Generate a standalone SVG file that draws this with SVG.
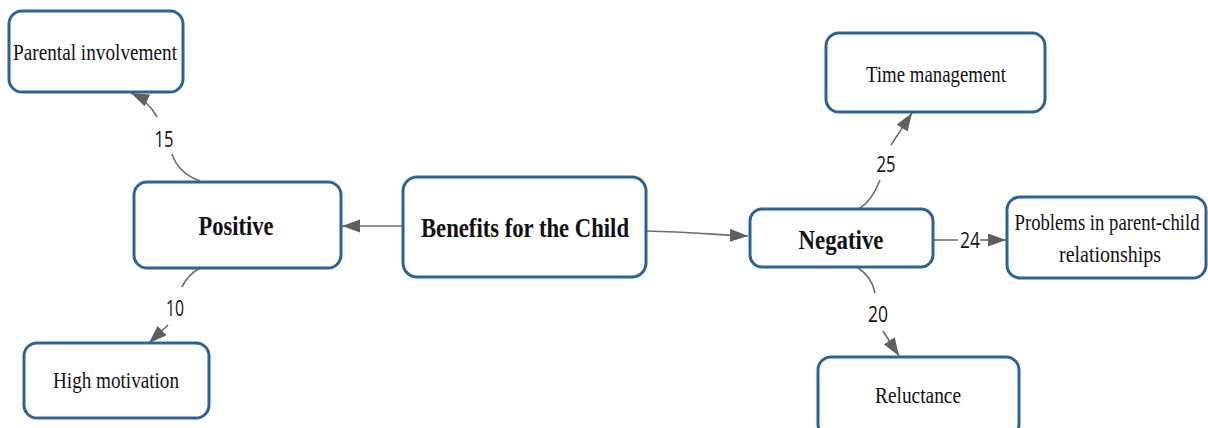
<svg xmlns="http://www.w3.org/2000/svg" width="1208" height="428" viewBox="0 0 1208 428">
<defs>
<style>
.box{fill:#fff;stroke:#2F6394;stroke-width:3}
.t{font-family:"Liberation Serif","Times New Roman",serif;font-size:24px;fill:#111;text-anchor:middle}
.b{font-family:"Liberation Serif","Times New Roman",serif;font-size:27px;font-weight:bold;fill:#111;text-anchor:middle}
.n{font-family:"Open Sans","Noto Sans",sans-serif;font-size:21px;fill:#111;text-anchor:middle}
.c{fill:none;stroke:#6e6e6e;stroke-width:1.6}
</style>
<marker id="ah" markerUnits="userSpaceOnUse" markerWidth="20" markerHeight="14" refX="18" refY="6.5" orient="auto">
<path d="M0,0 L18,6.5 L0,13 z" fill="#5f5f5f"/>
</marker>
</defs>
<rect width="1208" height="428" fill="#fff"/>
<g id="connectors">
<path class="c" d="M403,226 L342,226" marker-end="url(#ah)"/>
<path class="c" d="M646,231 C690,232 720,235 748,236" marker-end="url(#ah)"/>
<path class="c" d="M200,181 C186,176 176,166 172,154"/>
<path class="c" d="M157,117 C151,106 142,98 131,93" marker-end="url(#ah)"/>
<path class="c" d="M200,268 C192,272 185,280 182,287"/>
<path class="c" d="M168,325 L149,343" marker-end="url(#ah)"/>
<path class="c" d="M860,208 C868,203 875,193 880,180"/>
<path class="c" d="M891,145 L912,113" marker-end="url(#ah)"/>
<path class="c" d="M857,267 C866,273 873,282 875,293"/>
<path class="c" d="M883,331 L899,356" marker-end="url(#ah)"/>
<path class="c" d="M933,240 L958,240"/>
<path class="c" d="M980,240 L1006,240" marker-end="url(#ah)"/>
<text class="n" x="164" y="147" textLength="19" lengthAdjust="spacingAndGlyphs">15</text>
<text class="n" x="175" y="316" textLength="18" lengthAdjust="spacingAndGlyphs">10</text>
<text class="n" x="886" y="172" textLength="19" lengthAdjust="spacingAndGlyphs">25</text>
<text class="n" x="878" y="322" textLength="20" lengthAdjust="spacingAndGlyphs">20</text>
<text class="n" x="970" y="248" textLength="20" lengthAdjust="spacingAndGlyphs">24</text>
</g>
<g id="parental">
<rect class="box" x="9" y="11" width="174" height="81" rx="13"/>
<text class="t" x="95" y="60" textLength="164" lengthAdjust="spacingAndGlyphs">Parental involvement</text>
</g>
<g id="positive">
<rect class="box" x="134" y="182" width="207" height="86" rx="13"/>
<text class="b" x="236" y="235" textLength="75" lengthAdjust="spacingAndGlyphs">Positive</text>
</g>
<g id="high">
<rect class="box" x="24" y="343" width="185" height="75" rx="13"/>
<text class="t" x="116" y="388" textLength="126" lengthAdjust="spacingAndGlyphs">High motivation</text>
</g>
<g id="benefits">
<rect class="box" x="403" y="177" width="243" height="100" rx="14"/>
<text class="b" x="525" y="237" textLength="208" lengthAdjust="spacingAndGlyphs">Benefits for the Child</text>
</g>
<g id="negative">
<rect class="box" x="750" y="209" width="183" height="58" rx="12"/>
<text class="b" x="841" y="249" textLength="85" lengthAdjust="spacingAndGlyphs">Negative</text>
</g>
<g id="time">
<rect class="box" x="826" y="33" width="219" height="79" rx="13"/>
<text class="t" x="936" y="82" textLength="140" lengthAdjust="spacingAndGlyphs">Time management</text>
</g>
<g id="problems">
<rect class="box" x="1007" y="197" width="199" height="81" rx="13"/>
<text class="t" transform="matrix(0.78,0,0,1,1107,230)" x="0" y="0">Problems in parent-child</text>
<text class="t" x="1110" y="262" textLength="102" lengthAdjust="spacingAndGlyphs">relationships</text>
</g>
<g id="reluctance">
<rect class="box" x="818" y="357" width="201" height="80" rx="13"/>
<text class="t" x="918" y="403" textLength="86" lengthAdjust="spacingAndGlyphs">Reluctance</text>
</g>
</svg>
